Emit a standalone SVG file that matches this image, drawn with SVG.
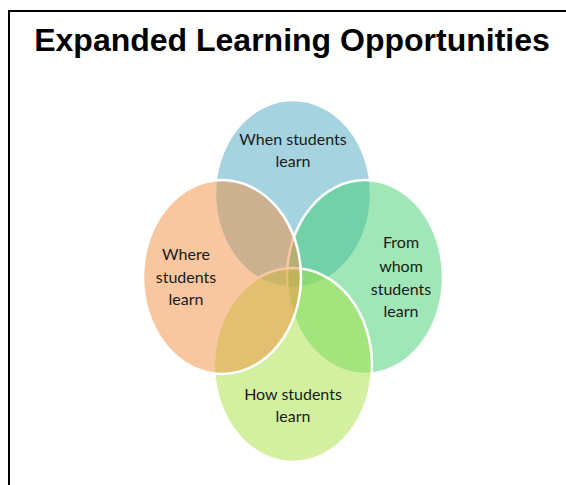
<svg xmlns="http://www.w3.org/2000/svg" width="566" height="485" viewBox="0 0 566 485">
<style>
.c{stroke:#fff;stroke-width:2.5;fill-opacity:0.5}
.t{font-family:Lato,"Noto Sans",sans-serif;font-size:16px;fill:#1a1a1a;text-anchor:middle}
.h{font-family:"Liberation Sans",Arial,sans-serif;font-size:32px;font-weight:bold;fill:#000;text-anchor:middle}
</style>
<rect width="566" height="485" fill="#fff"/>
<path d="M9,485 V11 H566" fill="none" stroke="#000" stroke-width="2"/>
<text class="h" x="292" y="51">Expanded Learning Opportunities</text>
<g id="when"><ellipse class="c" cx="293" cy="194" rx="78" ry="94" fill="#4ca8c2"/></g>
<g id="fromwhom"><ellipse class="c" cx="365" cy="277" rx="78" ry="97" fill="#41d072"/></g>
<g id="how"><ellipse class="c" cx="293" cy="365" rx="79" ry="97" fill="#a8e242"/></g>
<g id="where"><ellipse class="c" cx="222" cy="277" rx="79" ry="97" fill="#f18f40"/></g>
<g id="labels">
<text class="t" x="293" y="145">When students<tspan x="293" y="167">learn</tspan></text>
<text class="t" x="186" y="260">Where<tspan x="186" y="283">students</tspan><tspan x="186" y="305">learn</tspan></text>
<text class="t" x="401" y="248">From<tspan x="401" y="272">whom</tspan><tspan x="401" y="295">students</tspan><tspan x="401" y="317">learn</tspan></text>
<text class="t" x="293" y="400">How students<tspan x="293" y="422">learn</tspan></text>
</g>
</svg>
